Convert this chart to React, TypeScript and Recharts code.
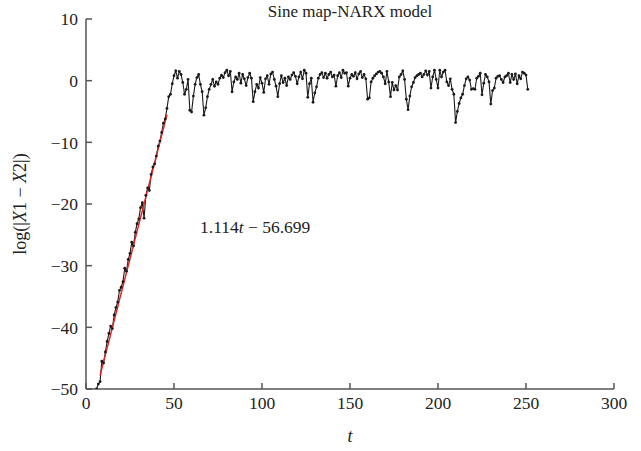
import { LineChart, Line, XAxis, YAxis } from "recharts";

// time steps of the NARX trajectory (one per step)
const tStart = 6;
const logDiff = [
  -50.0, -49.2, -48.8, -45.5, -45.8, -44.0, -42.3, -41.0, -39.8, -40.2,
  -38.0, -36.8, -35.9, -34.0, -33.5, -32.6, -30.4, -30.9, -29.0, -28.0,
  -26.2, -26.8, -24.6, -23.2, -22.4, -20.6, -19.8, -22.3, -18.6, -17.4,
  -17.8, -15.2, -14.0, -13.5, -12.2, -10.6, -9.8, -8.4, -6.9, -6.2,
  -4.5,
  // t = 47 onward
  -2.6, -2.2, -0.5, 0.8, 1.6, 0.4, 1.5, 1.0, -0.3, -2.2,
  -1.4, 0.2, -4.8, -5.1, -2.5, -0.6, 0.5, 1.0, -0.6, -1.8,
  -5.6, -4.4, -2.6, -1.4, -0.6, 0.2, -0.9, -0.2, -0.6, 0.4,
  0.9, 0.5, 1.3, 1.7, 0.8, 1.5, -1.8, -0.2, 0.6, 0.2,
  1.2, -0.4, 1.0, 0.3, -0.8, 0.5, 1.2, 0.4, -3.4, -1.8,
  -0.6, -1.2, 0.5, -0.4, -1.9, 0.3, 0.8, -0.6, 1.1, 1.4,
  0.2, -0.9, -2.6, -0.5, 0.8, -0.3, 0.4, -0.8, 0.6, 0.2,
  0.9, 1.3, 0.7, -0.5, 0.6, 1.4, 0.3, 1.7, 1.2, -2.7,
  -0.5, 0.4, -3.5, -2.0, -1.0, 0.4, 1.0, 1.3, 0.5, 1.2,
  0.4, 1.0, 1.4, 0.6, 0.9, -0.9, 0.8, 1.3, 0.5, 1.7,
  1.2, 1.3, -0.9, 0.4, 1.0, 0.7, 1.3, 0.3, 1.1, 1.5,
  0.5, 1.0, 0.3, -3.0, -2.8, -0.2, 0.4, 0.8, 1.1, 1.4,
  1.5, 1.2, 0.6, -0.5, 1.5, -0.2, -2.6, -0.3, -1.5, -0.8,
  -1.5, 0.6, 1.0, 1.6, 0.2, -3.0, -4.7, -2.5, -1.0, -0.3,
  0.5, 0.8, 1.0, 1.2, 0.6, 1.0, 1.6, 0.9, 1.5, -1.2,
  0.6, 1.7, 0.2, -1.2, 1.7, 0.6, 1.4, 1.7, -0.2, -0.8,
  0.3, -1.4, -2.2, -6.8, -5.0, -3.7, -2.8, -2.2, -0.8, 0.3,
  0.6, 0.1, -1.4, -1.3, -1.4, 0.4, 0.7, 1.2, -2.3, -0.4,
  1.0, 0.6, -0.2, -3.8, -1.6, -1.2, 0.4, 0.7, 0.8, 0.2,
  -0.3, 0.6, 0.8, 1.2, -0.3, 1.0, 0.2, 1.1, -0.5, 0.8,
  0.3, 1.4, 1.2, 0.9, -1.4,
];

// fitted line 1.114t - 56.699, drawn between its end points
const fitT = [8, 46];
const fitY = [-47.8, -5.5];

const xTicks = [0, 50, 100, 150, 200, 250, 300];
const yTicks = [-50, -40, -30, -20, -10, 0, 10];

const series = logDiff.map((v, i) => ({ t: tStart + i, y: v }));
const fit = fitT.map((t, i) => ({ t, y: fitY[i] }));

const font = "'Liberation Serif', 'Times New Roman', serif";
const minus = (v: number) => String(v).replace("-", "\u2212");

const App = () => {
  return (
    <div style={{ position: "absolute", left: 0, top: 0, width: 641, height: 451, background: "#fff", fontFamily: font, color: "#222" }}>
      <LineChart width={641} height={451} margin={{ top: 19, right: 27, bottom: 0, left: 0 }}>
        <XAxis
          dataKey="t"
          type="number"
          domain={[0, 300]}
          ticks={xTicks}
          stroke="#555"
          strokeWidth={1.5}
          tickSize={-6}
          tickMargin={14}
          height={62}
          tick={{ fill: "#222", fontSize: 17.5, fontFamily: font }}
          allowDataOverflow
        />
        <YAxis
          type="number"
          domain={[-50, 10]}
          ticks={yTicks}
          stroke="#555"
          strokeWidth={1.5}
          tickSize={-6}
          tickMargin={14}
          width={86}
          tickFormatter={minus}
          tick={{ fill: "#222", fontSize: 17.5, fontFamily: font }}
          allowDataOverflow
        />
        <Line
          data={series}
          dataKey="y"
          stroke="#1a1a1a"
          strokeWidth={1.1}
          dot={{ r: 1.4, fill: "#1a1a1a", stroke: "none" }}
          isAnimationActive={false}
        />
        <Line
          data={fit}
          dataKey="y"
          stroke="#e8231f"
          strokeWidth={1.5}
          dot={false}
          isAnimationActive={false}
        />
      </LineChart>
      <div style={{ position: "absolute", left: 350, top: 2, transform: "translateX(-50%)", fontSize: 17, whiteSpace: "nowrap" }}>
        Sine map-NARX model
      </div>
      <div style={{ position: "absolute", left: 200, top: 217, fontSize: 17.5, whiteSpace: "nowrap" }}>
        1.114<i>t</i> {"\u2212"} 56.699
      </div>
      <div style={{ position: "absolute", left: 350, top: 426, transform: "translateX(-50%)", fontSize: 18, fontStyle: "italic" }}>
        t
      </div>
      <div style={{ position: "absolute", left: 20, top: 204, transform: "translate(-50%, -50%) rotate(-90deg)", fontSize: 18, whiteSpace: "nowrap" }}>
        log(|<i>X</i>1 {"\u2212"} <i>X</i>2|)
      </div>
    </div>
  );
};

export default App;
